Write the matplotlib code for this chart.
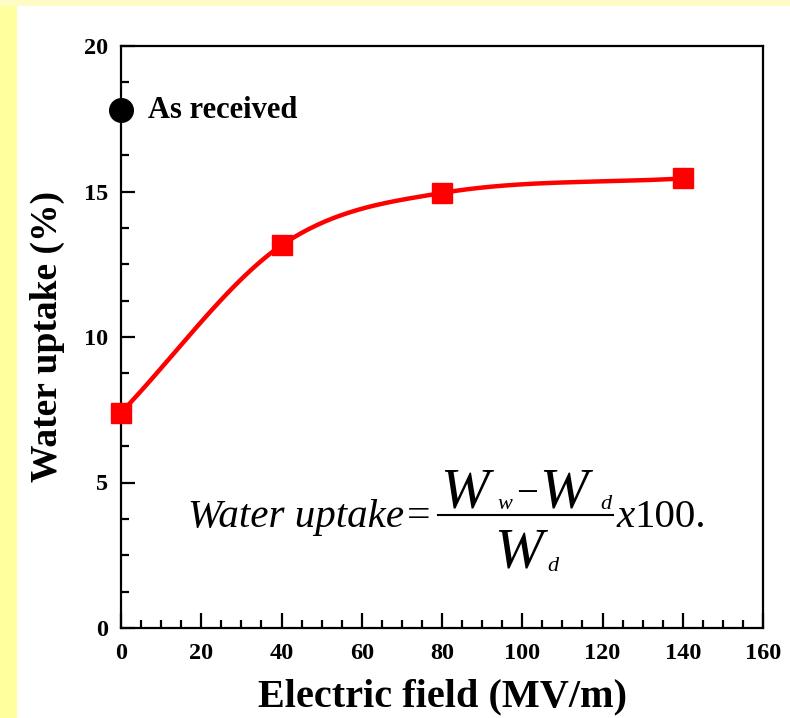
import numpy as np
import matplotlib
matplotlib.use("Agg")
import matplotlib.pyplot as plt
from matplotlib.ticker import MultipleLocator
from matplotlib.patches import Rectangle
from matplotlib.lines import Line2D

# data
field = [0, 40, 80, 140]              # MV/m
uptake = [7.4, 13.15, 14.95, 15.45]   # %
as_received_x = [0]
as_received_y = [17.8]

W, H = 790, 718
SERIF = "Liberation Serif"


def fx(x):
    return x / W


def fy(y):
    return 1 - y / H


def smooth_line(xs, ys, n=60):
    # Catmull-Rom style curve through the points, only for drawing the smooth line
    xs = np.asarray(xs, float)
    ys = np.asarray(ys, float)
    m = np.zeros_like(ys)
    m[0] = (ys[1] - ys[0]) / (xs[1] - xs[0])
    m[-1] = (ys[-1] - ys[-2]) / (xs[-1] - xs[-2])
    for i in range(1, len(xs) - 1):
        m[i] = (ys[i + 1] - ys[i - 1]) / (xs[i + 1] - xs[i - 1])
    out_x, out_y = [], []
    for i in range(len(xs) - 1):
        h = xs[i + 1] - xs[i]
        t = np.linspace(0, 1, n)
        h00 = 2 * t**3 - 3 * t**2 + 1
        h10 = t**3 - 2 * t**2 + t
        h01 = -2 * t**3 + 3 * t**2
        h11 = t**3 - t**2
        out_x.append(xs[i] + t * h)
        out_y.append(h00 * ys[i] + h10 * h * m[i] + h01 * ys[i + 1] + h11 * h * m[i + 1])
    return np.concatenate(out_x), np.concatenate(out_y)


fig = plt.figure(figsize=(W / 100, H / 100), dpi=100)
fig.patch.set_facecolor("white")

# yellow slide border
fig.patches.append(Rectangle((0, 0), fx(17), 1, transform=fig.transFigure,
                             facecolor="#FFFF9E", edgecolor="none", zorder=0))
fig.patches.append(Rectangle((0, fy(6)), 1, 1 - fy(6), transform=fig.transFigure,
                             facecolor="#FFFBC6", edgecolor="none", zorder=0))

ax = fig.add_axes([fx(121), fy(628), fx(763) - fx(121), fy(46) - fy(628)])
ax.set_xlim(0, 160)
ax.set_ylim(0, 20)

sx, sy = smooth_line(field, uptake)
ax.plot(sx, sy, color="#FF0000", lw=3.2, solid_capstyle="round", zorder=3, clip_on=False)
ax.plot(field, uptake, "s", color="#FF0000", ms=15, zorder=4, clip_on=False)
ax.plot(as_received_x, as_received_y, "o", color="black", ms=17, zorder=4, clip_on=False)
ax.text(6.7, 17.8, "As received", fontfamily=SERIF, fontweight="bold",
        fontsize=22, va="center", ha="left")

for s in ax.spines.values():
    s.set_linewidth(1.6)

ax.xaxis.set_major_locator(MultipleLocator(20))
ax.xaxis.set_minor_locator(MultipleLocator(5))
ax.yaxis.set_major_locator(MultipleLocator(5))
ax.yaxis.set_minor_locator(MultipleLocator(1.25))
ax.tick_params(which="both", direction="in", top=False, right=False, width=1.6)
ax.tick_params(axis="x", which="major", length=11, pad=11)
ax.tick_params(axis="x", which="minor", length=6)
ax.tick_params(axis="y", which="major", length=10, pad=9)
ax.tick_params(axis="y", which="minor", length=6)
for lab in ax.get_xticklabels() + ax.get_yticklabels():
    lab.set_fontfamily(SERIF)
    lab.set_fontweight("bold")
    lab.set_fontsize(17.5)

ax.set_xlabel("Electric field (MV/m)", fontfamily=SERIF, fontweight="bold",
              fontsize=29, labelpad=10)
ax.set_ylabel("Water uptake (%)", fontfamily=SERIF, fontweight="bold",
              fontsize=27, labelpad=14)

# formula
it = dict(fontfamily=SERIF, fontstyle="italic", va="baseline", ha="left")
rm = dict(fontfamily=SERIF, va="baseline", ha="left")
fig.text(fx(188), fy(527), "Water uptake", fontsize=29.5, **it)
fig.text(fx(407), fy(527), "=", fontsize=30, **rm)
fig.text(fx(440), fy(507), "W", fontsize=42, **it)
fig.text(fx(497), fy(509), "w", fontsize=16, **it)
fig.text(fx(516), fy(504), "\u2212", fontsize=28, **rm)
fig.text(fx(539), fy(507), "W", fontsize=42, **it)
fig.text(fx(600), fy(509), "d", fontsize=16, **it)
fig.lines.append(Line2D([fx(438), fx(613)], [fy(515), fy(515)], transform=fig.transFigure,
                        color="black", lw=1.5))
fig.text(fx(494), fy(567), "W", fontsize=42, **it)
fig.text(fx(547), fy(571), "d", fontsize=16, **it)
fig.text(fx(616), fy(527), "x", fontsize=29.5, **it)
fig.text(fx(634), fy(527), "100.", fontsize=29.5, **rm)

fig.savefig("out.png", dpi=100, facecolor=fig.get_facecolor())
